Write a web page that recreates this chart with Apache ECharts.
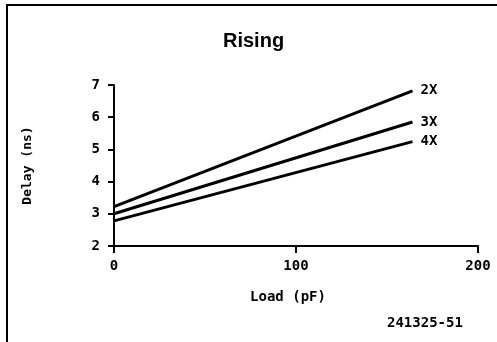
<!DOCTYPE html>
<html>
<head>
<meta charset="utf-8">
<script src="https://cdn.jsdelivr.net/npm/echarts@6/dist/echarts.min.js"></script>
<style>
html,body{margin:0;padding:0;background:#fff;}
#c{width:497px;height:342px;}
</style>
</head>
<body>
<div id="c"></div>
<script>
var seriesNames = ['2X', '3X', '4X'];
var loadPoints = [0, 164];
var delay2X = [3.22, 6.82];
var delay3X = [3.00, 5.85];
var delay4X = [2.78, 5.24];
var xTicks = [0, 100, 200];
var yTicks = [2, 3, 4, 5, 6, 7];

var mono = '"DejaVu Sans Mono", monospace';
function pairs(ys){ return loadPoints.map(function(x,i){ return [x, ys[i]]; }); }
var allY = [delay2X, delay3X, delay4X];

var chart = echarts.init(document.getElementById('c'));
chart.setOption({
  animation: false,
  backgroundColor: '#fff',
  title: {
    text: 'Rising', left: 218, top: 26, padding: 5,
    textStyle: { fontFamily: '"Liberation Sans", Arial, sans-serif', fontWeight: 'bold', fontSize: 20, color: '#000' }
  },
  grid: { left: 114, right: 19, top: 85, bottom: 96 },
  xAxis: {
    type: 'value', min: xTicks[0], max: xTicks[xTicks.length-1], interval: 100,
    name: 'Load (pF)', nameLocation: 'middle', nameGap: 44,
    nameTextStyle: { fontFamily: mono, fontWeight: 'bold', fontSize: 14, color: '#000', padding: [0, 16, 0, 0] },
    axisLine: { lineStyle: { color: '#000', width: 2 } },
    axisTick: { show: true, length: 7, lineStyle: { color: '#000', width: 2 } },
    axisLabel: { margin: 13, fontFamily: mono, fontWeight: 'bold', fontSize: 14, color: '#000' },
    splitLine: { show: false }
  },
  yAxis: {
    type: 'value', min: yTicks[0], max: yTicks[yTicks.length-1], interval: 1,
    name: 'Delay (ns)', nameLocation: 'middle', nameGap: 80,
    nameTextStyle: { fontFamily: mono, fontWeight: 'bold', fontSize: 13, color: '#000' },
    axisLine: { lineStyle: { color: '#000', width: 2 } },
    axisTick: { show: true, length: 6, lineStyle: { color: '#000', width: 2 } },
    axisLabel: { margin: 14, fontFamily: mono, fontWeight: 'bold', fontSize: 14, color: '#000' },
    splitLine: { show: false }
  },
  series: seriesNames.map(function(n, i){
    return {
      name: n, type: 'line', data: pairs(allY[i]), symbol: 'none',
      lineStyle: { color: '#000', width: 3 },
      endLabel: { show: true, formatter: n, distance: 8, fontFamily: mono, fontWeight: 'bold', fontSize: 14, color: '#000' }
    };
  }),
  graphic: [
    { type: 'rect', shape: { x: 7, y: 5, width: 700, height: 500 }, style: { fill: null, stroke: '#000', lineWidth: 2 }, silent: true },
    { type: 'text', left: 387, top: 316, style: { text: '241325-51', font: 'bold 14px "DejaVu Sans Mono", monospace', fill: '#000' } }
  ]
});
</script>
</body>
</html>
